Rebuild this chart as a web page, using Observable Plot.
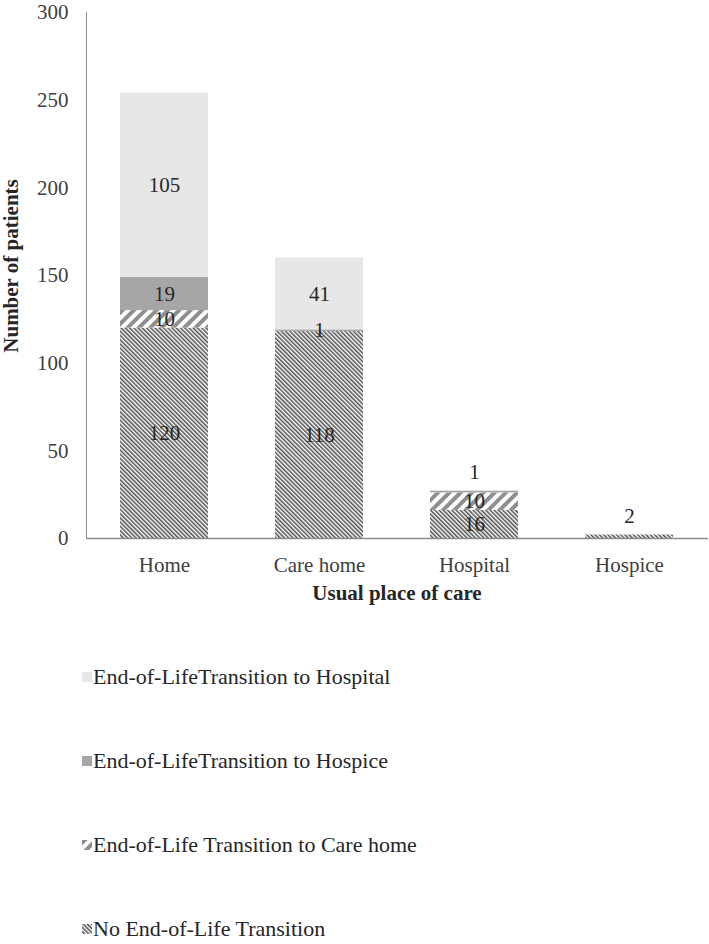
<!DOCTYPE html>
<html><head><meta charset="utf-8">
<script src="https://cdn.jsdelivr.net/npm/d3@7"></script>
<script src="https://cdn.jsdelivr.net/npm/@observablehq/plot@0.6"></script>
<style>
body{margin:0;background:#fff;font-family:"Liberation Serif","Tinos","Times New Roman","Times","Nimbus Roman","DejaVu Serif",serif;overflow:hidden;}
#legend{padding-left:82px;padding-top:45px;}
.item{display:flex;align-items:center;height:24px;margin-bottom:60px;font-size:22px;color:#262626;white-space:nowrap;}
.item svg{margin-right:1px;flex:none;}
</style></head><body>
<svg width="0" height="0" style="position:absolute">
<defs>
<pattern id="pNo" patternUnits="userSpaceOnUse" width="3" height="3" patternTransform="rotate(-45)">
<rect width="3" height="3" fill="#fff"/><rect width="1.5" height="3" fill="#4d4d4d"/>
</pattern>
<pattern id="pCare" patternUnits="userSpaceOnUse" width="8" height="8" patternTransform="rotate(45)">
<rect width="8" height="8" fill="#fff"/><rect width="4" height="8" fill="#8f8f8f"/>
</pattern>
</defs></svg>
<div id="chart"></div>
<div id="legend"></div>
<script>
const categories = ["Home", "Care home", "Hospital", "Hospice"];
const seriesNames = ["No End-of-Life Transition", "End-of-Life Transition to Care home", "End-of-LifeTransition to Hospice", "End-of-LifeTransition to Hospital"];
const noTransition = [120, 118, 16, 2];
const toCareHome = [10, 0, 10, 0];
const toHospice = [19, 1, 1, 0];
const toHospital = [105, 41, 0, 0];
const yTicks = [0, 50, 100, 150, 200, 250, 300];
const legendOrder = ["End-of-LifeTransition to Hospital", "End-of-LifeTransition to Hospice", "End-of-Life Transition to Care home", "No End-of-Life Transition"];
const outsideLabels = [["Hospital", "End-of-LifeTransition to Hospice"], ["Hospice", "No End-of-Life Transition"]];
const seriesFills = ["url(#pNo)", "url(#pCare)", "#a6a6a6", "#e7e7e7"];

const FONT = '"Liberation Serif", "Tinos", "Times New Roman", "Times", "Nimbus Roman", "DejaVu Serif", serif';
const seriesValues = [noTransition, toCareHome, toHospice, toHospital];
const rows = [];
categories.forEach((c, i) => {
  seriesNames.forEach((s, j) => {
    const v = seriesValues[j][i];
    if (v > 0) rows.push({category: c, series: s, value: v});
  });
});
const isOutside = d => outsideLabels.some(([c, s]) => c === d.category && s === d.series);

const plot = Plot.plot({
  width: 709, height: 620,
  marginTop: 12, marginLeft: 86, marginRight: 1, marginBottom: 82,
  style: {fontFamily: FONT, fontSize: "21px", overflow: "visible", background: "#fff"},
  x: {domain: categories, paddingInner: 0.43, paddingOuter: 0.215, label: null},
  y: {domain: [0, 300], label: null},
  color: {domain: seriesNames, range: seriesFills},
  marks: [
    Plot.barY(rows, Plot.stackY({x: "category", y: "value", fill: "series", order: seriesNames})),
    Plot.text(rows, Plot.stackY({x: "category", y: "value", z: "series", order: seriesNames, text: d => isOutside(d) ? "" : String(d.value), fill: "#262626", fontSize: 21})),
    Plot.text(rows, Plot.stackY2({x: "category", y: "value", z: "series", order: seriesNames, text: d => isOutside(d) ? String(d.value) : "", dy: -19, fill: "#262626", fontSize: 21})),
    Plot.frame({anchor: "left", stroke: "#8c8c8c"}),
    Plot.ruleY([0], {stroke: "#8c8c8c", strokeWidth: 1.3}),
    Plot.axisY({ticks: yTicks, tickSize: 0, tickPadding: 18, fill: "#404040", label: null, fontSize: 21}),
    Plot.axisX({tickSize: 0, tickPadding: 19, fill: "#404040", label: null, fontSize: 21})
  ]
});
const svg = d3.select(plot);
svg.selectAll("text").style("font-family", FONT);
svg.append("text")
  .attr("transform", "translate(18,266) rotate(-90)")
  .attr("text-anchor", "middle")
  .style("font-family", FONT)
  .attr("font-weight", "bold").attr("font-size", 21).attr("fill", "#262626")
  .text("Number of patients");
svg.append("text")
  .attr("x", 397).attr("y", 600)
  .attr("text-anchor", "middle")
  .style("font-family", FONT)
  .attr("font-weight", "bold").attr("font-size", 21).attr("fill", "#262626")
  .text("Usual place of care");
document.getElementById("chart").append(plot);

const legend = d3.select("#legend");
legendOrder.forEach(name => {
  const item = legend.append("div").attr("class", "item");
  const sw = item.append("svg").attr("width", 10).attr("height", 10);
  sw.append("rect").attr("width", 10).attr("height", 10).attr("fill", seriesFills[seriesNames.indexOf(name)]);
  item.append("span").text(name);
});
</script>
</body></html>
